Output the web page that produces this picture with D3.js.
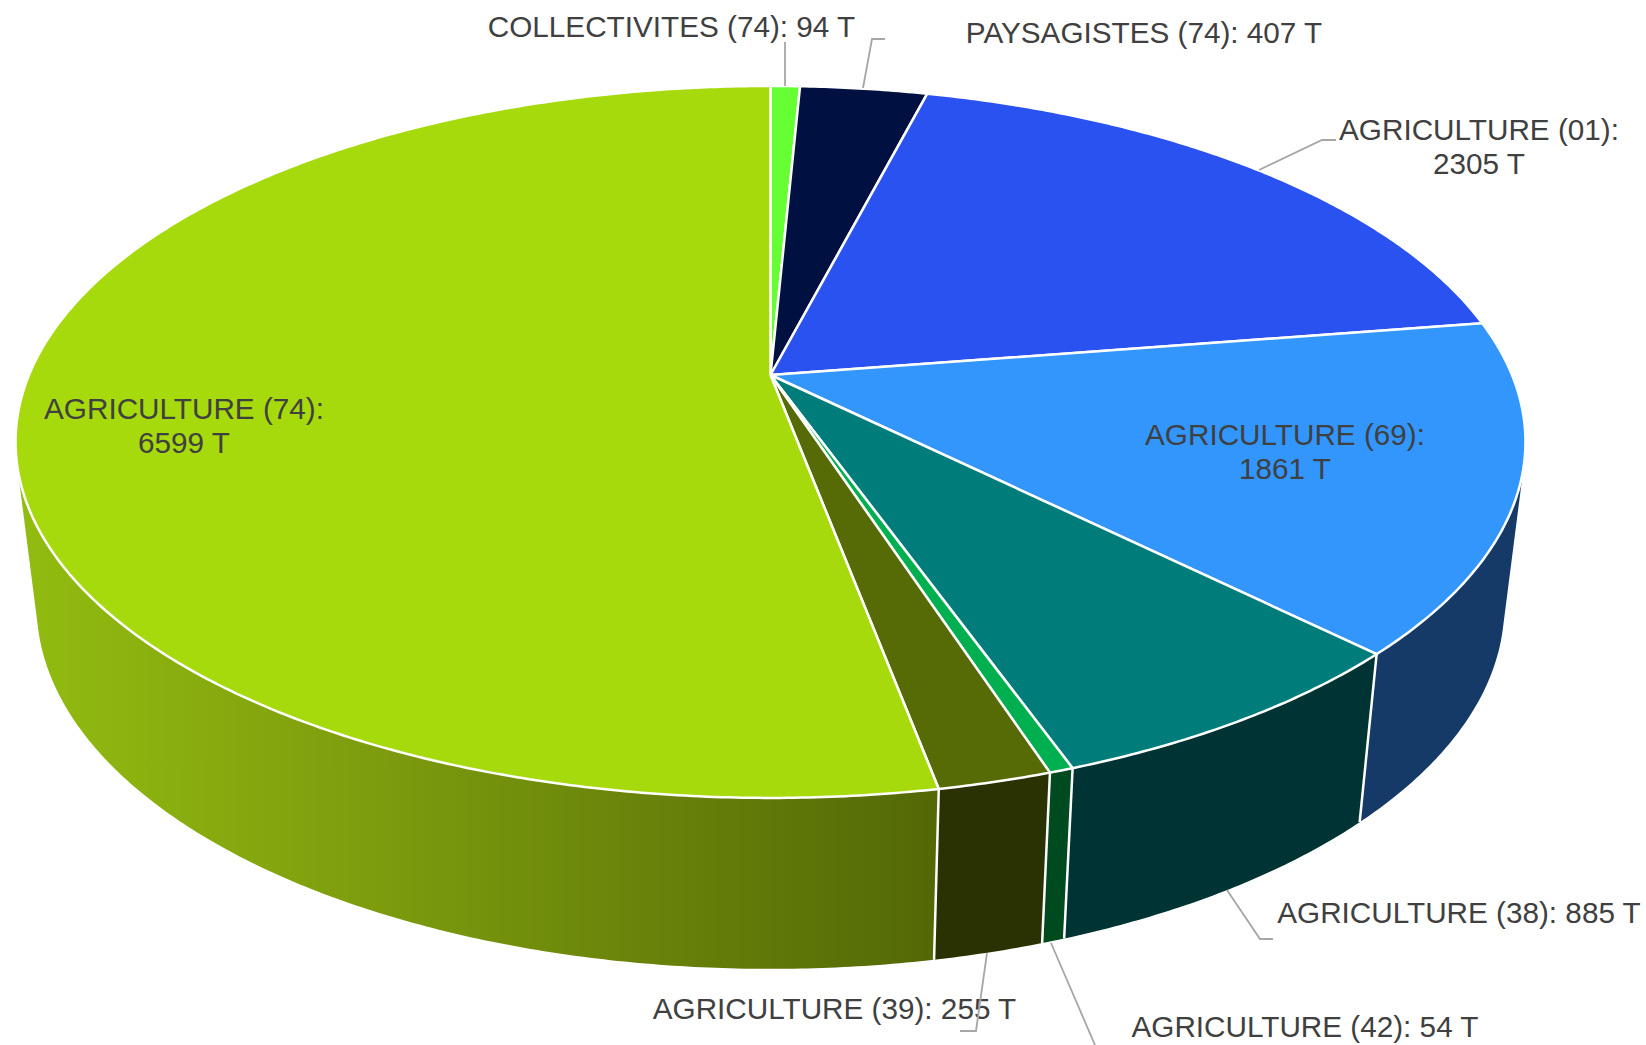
<!DOCTYPE html>
<html lang="en">
<head>
  <meta charset="UTF-8">
  <title>Tonnages par filière</title>
  <script src="https://d3js.org/d3.v7.min.js"></script>
  <style>
    html, body { margin: 0; padding: 0; background: #fff; overflow: hidden; }
    svg { display: block; }
    text { font-family: "Liberation Sans", Arial, sans-serif; font-size: 29.7px; fill: #404040; }
  </style>
</head>
<body>
<div id="graph-container"></div>

<script>
// Slices, clockwise from the top of the pie
const categories = ["COLLECTIVITES (74)", "PAYSAGISTES (74)", "AGRICULTURE (01)", "AGRICULTURE (69)", "AGRICULTURE (38)", "AGRICULTURE (42)", "AGRICULTURE (39)", "AGRICULTURE (74)"];
const tonnages = [94, 407, 2305, 1861, 885, 54, 255, 6599];
const topColors = ["#66ff33", "#001141", "#2a52f0", "#3296fd", "#007c7b", "#00b050", "#566a06", "#a6da0d"];
const wallColors = ["#338a1a", "#000820", "#152979", "#163a68", "#003333", "#004a20", "#2a3103", "url(#limeWall)"];

const width = 1646, height = 1045;

// Perspective of the tilted disc: unit circle -> screen
const cx = 770.5, cy = 375, radiusX = 741.5, radiusY = 343.4, tilt = 0.188;
const project = (angle) => {
  const x = Math.sin(angle), y = -Math.cos(angle), w = 1 - tilt * y;
  return [cx + radiusX * x / w, cy + radiusY * y / w];
};
// Same point on the lower rim of the disc
const lower = ([x, y]) => [cx + 0.972 * (x - cx), 1.02 * y + 155];

// Label placement per slice, in the same order as categories
const labelLayout = [
  { x: 671.5, y: [37], line: [[785, 42], [785, 86]] },
  { x: 1144, y: [43], line: [[863, 88], [872, 39], [885, 39]] },
  { x: 1479, y: [140, 174], line: [[1259, 170], [1322, 140], [1336, 140]] },
  { x: 1285, y: [445, 479], line: null },
  { x: 1459, y: [923], line: [[1227, 890], [1260, 939], [1273, 939]] },
  { x: 1305, y: [1037], line: [[1051, 943], [1095, 1045]] },
  { x: 834.5, y: [1019], line: [[987, 953], [976, 1031], [960, 1031]] },
  { x: 184, y: [419, 453], line: null }
];

const slices = d3.pie().sort(null).value(d => d)(tonnages);

const svg = d3.select("#graph-container")
  .append("svg")
  .attr("width", width)
  .attr("height", height);

const gradient = svg.append("defs").append("linearGradient")
  .attr("id", "limeWall")
  .attr("gradientUnits", "userSpaceOnUse")
  .attr("x1", 20).attr("x2", 940).attr("y1", 0).attr("y2", 0);
gradient.append("stop").attr("offset", "0%").attr("stop-color", "#92bc10");
gradient.append("stop").attr("offset", "35%").attr("stop-color", "#7f9f0e");
gradient.append("stop").attr("offset", "100%").attr("stop-color", "#536806");

const line = d3.line();

function arcAngles(d) {
  return d3.range(0, 1.0001, 1 / Math.max(2, Math.ceil((d.endAngle - d.startAngle) / 0.008)))
    .map(t => d.startAngle + t * (d.endAngle - d.startAngle));
}

// Wall as a run of small quads, all wound the same way so the fold at the sides stays filled
function wallPath(d) {
  const rim = arcAngles(d).map(project);
  let path = "";
  for (let i = 0; i < rim.length - 1; i++) {
    const quad = [rim[i], rim[i + 1], lower(rim[i + 1]), lower(rim[i])];
    if (d3.polygonArea(quad) < 0) quad.reverse();
    path += line(quad) + "Z";
  }
  return path;
}

svg.append("g").selectAll("path")
  .data(slices)
  .enter()
  .append("path")
  .attr("d", wallPath)
  .attr("fill", (d, i) => wallColors[i]);

// White separators on the wall
svg.append("g").selectAll("path")
  .data(slices)
  .enter()
  .append("path")
  .attr("d", d => line([project(d.startAngle), lower(project(d.startAngle))]))
  .attr("stroke", "#fff")
  .attr("stroke-width", 2.5)
  .attr("fill", "none");

// Top face
svg.append("g").selectAll("path")
  .data(slices)
  .enter()
  .append("path")
  .attr("d", d => line([[cx, cy], ...arcAngles(d).map(project)]) + "Z")
  .attr("fill", (d, i) => topColors[i])
  .attr("stroke", "#fff")
  .attr("stroke-width", 2.5)
  .attr("stroke-linejoin", "round");

// Labels
const labels = svg.append("g").selectAll("g")
  .data(categories)
  .enter()
  .append("g");

labels.each(function(category, i) {
  const layout = labelLayout[i];
  const lines = layout.y.length > 1
    ? [category + ":", tonnages[i] + " T"]
    : [category + ": " + tonnages[i] + " T"];
  d3.select(this).selectAll("text")
    .data(lines)
    .enter()
    .append("text")
    .attr("x", layout.x)
    .attr("y", (d, j) => layout.y[j])
    .attr("text-anchor", "middle")
    .text(d => d);
});

// Leader lines
svg.append("g").selectAll("path")
  .data(labelLayout.filter(d => d.line))
  .enter()
  .append("path")
  .attr("d", d => line(d.line))
  .attr("fill", "none")
  .attr("stroke", "#a6a6a6")
  .attr("stroke-width", 1.8);
</script>

</body>
</html>
